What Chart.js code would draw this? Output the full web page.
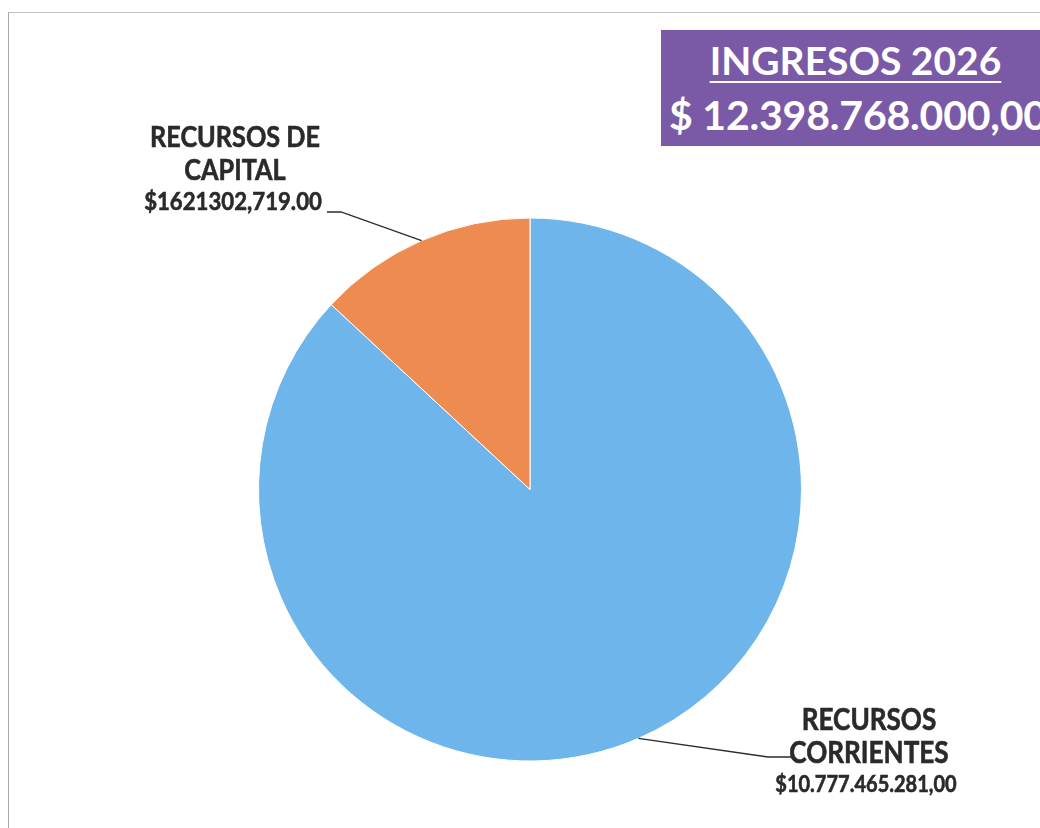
<!DOCTYPE html>
<html><head><meta charset="utf-8">
<script src="https://cdn.jsdelivr.net/npm/chart.js@4"></script>
<style>
html,body{margin:0;padding:0;width:1040px;height:828px;overflow:hidden;background:#fff}
#frame{position:absolute;left:8px;top:12px;width:1100px;height:900px;border-left:1.5px solid #a8a8a8;border-top:1.5px solid #c4c4c4;box-sizing:border-box}
#c{position:absolute;left:0;top:0}
#title{position:absolute;left:661px;top:30px;width:389px;height:116px;background:#7A5AA6;color:#fff;font-family:Lato,sans-serif;font-weight:bold;white-space:nowrap}
#t1{position:absolute;left:0;width:389px;top:11px;font-size:39px;line-height:39px;text-align:center;text-decoration:underline;text-decoration-thickness:2px;text-underline-offset:6px}
#t2{position:absolute;left:8px;top:64px;font-size:41px;line-height:41px;letter-spacing:-0.2px}
</style></head>
<body>
<div id="frame"></div>
<canvas id="c" width="1040" height="828"></canvas>
<div id="title"><div id="t1">INGRESOS 2026</div><div id="t2">$ 12.398.768.000,00</div></div>
<script>
const categories = ["RECURSOS CORRIENTES", "RECURSOS DE CAPITAL"];
const values = [10777465281, 1621302719];
const labelLines = [["RECURSOS", "CORRIENTES"], ["RECURSOS DE", "CAPITAL"]];
const amountLabels = ["$10.777.465.281,00", "$1621302,719.00"];
const colors = ["#6DB5EA", "#EE8B50"];

// label layout (not data)
const labelLayout = [
  {elbow:[768,757], end:[792,757], cx:[869,869,866], base:[730,763,792], sizes:[30,30,23]},
  {elbow:[341,212], end:[327,212], cx:[235,235,233], base:[147,180,210], sizes:[29,29,25.5]}
];
const SX = 0.87;

const labelPlugin = {
  id:'labels',
  afterDraw(chart){
    const ctx = chart.ctx;
    const meta = chart.getDatasetMeta(0);
    meta.data.forEach((arc,i)=>{
      const p = arc.getProps(['x','y','startAngle','endAngle','outerRadius'],true);
      const mid = (p.startAngle+p.endAngle)/2;
      const px = p.x+Math.cos(mid)*p.outerRadius, py = p.y+Math.sin(mid)*p.outerRadius;
      const L = labelLayout[i];
      ctx.save();
      ctx.strokeStyle = '#2b2b2b'; ctx.lineWidth = 1.3;
      ctx.beginPath(); ctx.moveTo(px,py); ctx.lineTo(L.elbow[0],L.elbow[1]); ctx.lineTo(L.end[0],L.end[1]); ctx.stroke();
      ctx.restore();
      const lines = [...labelLines[i], amountLabels[i]];
      lines.forEach((t,k)=>{
        ctx.save();
        ctx.translate(L.cx[k], L.base[k]);
        ctx.scale(SX,1);
        ctx.font = 'bold '+L.sizes[k]+'px Lato, sans-serif';
        ctx.textAlign='center'; ctx.textBaseline='alphabetic';
        ctx.fillStyle = '#2a2a2a'; ctx.strokeStyle='#2a2a2a'; ctx.lineWidth=0.6;
        ctx.fillText(t, 0, 0);
        ctx.strokeText(t, 0, 0);
        ctx.restore();
      });
    });
  }
};

new Chart(document.getElementById('c'), {
  type:'pie',
  data:{labels:categories, datasets:[{data:values, backgroundColor:colors, borderColor:'#ffffff', borderWidth:1}]},
  options:{
    responsive:false, animation:false,
    layout:{padding:{left:258, right:238, top:217, bottom:66}},
    plugins:{legend:{display:false}, tooltip:{enabled:false}}
  },
  plugins:[labelPlugin]
});
</script>
</body></html>
